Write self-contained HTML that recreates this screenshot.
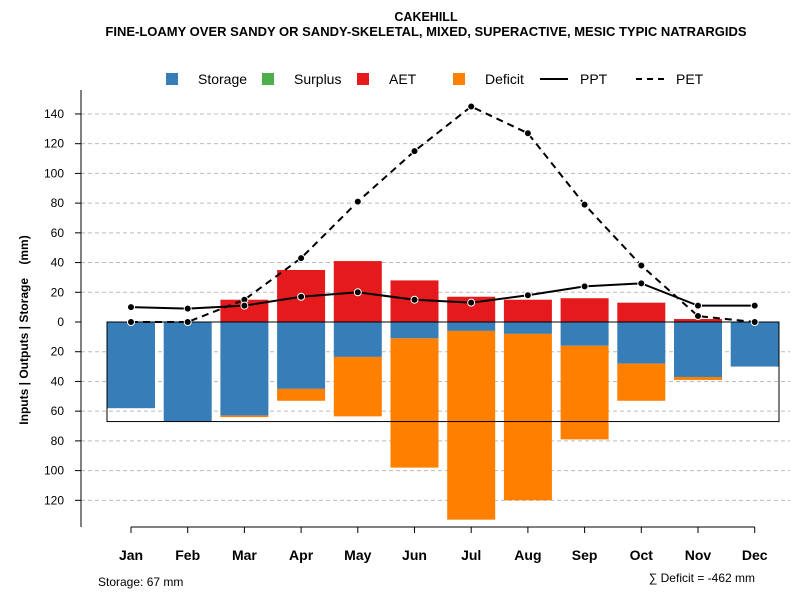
<!DOCTYPE html>
<html><head><meta charset="utf-8"><style>
body{margin:0;background:#fff;font-family:"Liberation Sans",sans-serif}
</style></head><body>
<svg id="chart" width="800" height="600" xmlns="http://www.w3.org/2000/svg" font-family="Liberation Sans, sans-serif">
<rect width="800" height="600" fill="#fff"/>
<text x="426" y="21" text-anchor="middle" font-size="12.5" font-weight="bold">CAKEHILL</text>
<text x="426" y="36" text-anchor="middle" font-size="13" font-weight="bold">FINE-LOAMY OVER SANDY OR SANDY-SKELETAL, MIXED, SUPERACTIVE, MESIC TYPIC NATRARGIDS</text>
<g font-size="14">
<rect x="166" y="73" width="12" height="12" fill="#377EB8"/><text x="198" y="84">Storage</text>
<rect x="262" y="73" width="12" height="12" fill="#4DAF4A"/><text x="294" y="84">Surplus</text>
<rect x="357" y="73" width="12" height="12" fill="#E41A1C"/><text x="389" y="84">AET</text>
<rect x="453" y="73" width="12" height="12" fill="#FF7F00"/><text x="485" y="84">Deficit</text>
<line x1="540" y1="79" x2="568" y2="79" stroke="#000" stroke-width="2"/><text x="580" y="84">PPT</text>
<line x1="636" y1="79" x2="664" y2="79" stroke="#000" stroke-width="2" stroke-dasharray="6,5"/><text x="676" y="84">PET</text>
</g>
<g id="grid"></g><g id="bars"></g><g id="lines"></g><g id="axes"></g>
<text xml:space="preserve" style="white-space:pre" transform="translate(28,330) rotate(-90)" text-anchor="middle" font-size="12" font-weight="bold">Inputs | Outputs | Storage    (mm)</text>
<text x="98" y="586" font-size="12">Storage: 67 mm</text>
<text x="755" y="582" text-anchor="end" font-size="12">∑ Deficit = -462 mm</text>
</svg>
<script>
const months=["Jan","Feb","Mar","Apr","May","Jun","Jul","Aug","Sep","Oct","Nov","Dec"];
const aet=[0,0,15,35,41,28,17,15,16,13,2,0];
const storage=[58,67,63,45,23.5,11,6,8,16,28,37,30];
const deficit=[0,0,1,8,40,87,127,112,63,25,2,0];
const ppt=[10,9,11,17,20,15,13,18,24,26,11,11];
const pet=[0,0,15,43,81,115,145,127,79,38,4,0];
const yTicks=[140,120,100,80,60,40,20,0,-20,-40,-60,-80,-100,-120];
const storageCap=67;
const NS="http://www.w3.org/2000/svg";
const y=v=>322-v*1.486;
const x=i=>131+i*56.7;
function mk(t,a,p){const e=document.createElementNS(NS,t);for(const k in a)e.setAttribute(k,a[k]);p.appendChild(e);return e;}
const grid=document.getElementById('grid'),bars=document.getElementById('bars'),lines=document.getElementById('lines'),axes=document.getElementById('axes');
yTicks.forEach(t=>{if(t!==0){const g=mk('line',{x1:81,x2:790,y1:y(t),y2:y(t),stroke:'#bbb','stroke-dasharray':'4,3'},grid);

}
const tk=mk('line',{x1:75,x2:81,y1:y(t),y2:y(t),stroke:'#000'},axes);


const lb=mk('text',{x:64,y:y(t)+4,'text-anchor':'end','font-size':12},axes);lb.textContent=Math.abs(t);

});
const bw=48;
months.forEach((m,i)=>{
const a=mk('rect',{x:x(i)-bw/2,y:y(aet[i]),width:bw,height:aet[i]*1.486,fill:'#E41A1C'},bars);


const s=mk('rect',{x:x(i)-bw/2,y:y(0),width:bw,height:storage[i]*1.486,fill:'#377EB8'},bars);


const d=mk('rect',{x:x(i)-bw/2,y:y(-storage[i]),width:bw,height:deficit[i]*1.486,fill:'#FF7F00'},bars);


const tk=mk('line',{x1:x(i),x2:x(i),y1:527,y2:533,stroke:'#000'},axes);


const lb=mk('text',{x:x(i),y:560,'text-anchor':'middle','font-size':14,'font-weight':'bold'},axes);lb.textContent=m;


});
const zl=mk('line',{x1:107,x2:779,y1:y(0),y2:y(0),stroke:'#000'},lines);


const sb=mk('rect',{x:107,y:y(0),width:672,height:storageCap*1.486,fill:'none',stroke:'#000'},lines);


function series(vals,name,dash){
const p=mk('polyline',{points:vals.map((v,i)=>x(i)+','+y(v)).join(' '),fill:'none',stroke:'#000','stroke-width':2,'stroke-dasharray':dash},lines);


vals.forEach((v,i)=>{const c=mk('circle',{cx:x(i),cy:y(v),r:3.5,fill:'#000',stroke:'#fff','stroke-width':1},lines);

});}
series(pet,'pet','7,5');
series(ppt,'ppt','none');
const ya=mk('line',{x1:81,x2:81,y1:90,y2:527,stroke:'#000'},axes);


const xa=mk('line',{x1:x(0),x2:x(11),y1:527,y2:527,stroke:'#000'},axes);


</script>
</body></html>
